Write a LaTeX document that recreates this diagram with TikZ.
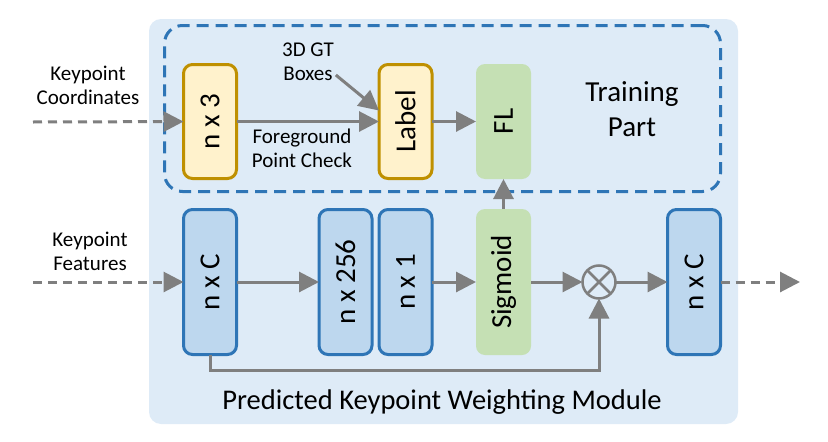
\documentclass[tikz,border=0pt]{standalone}
\usepackage{fontspec}
\setmainfont{Carlito}
\usepackage{graphicx}
\usetikzlibrary{arrows.meta}

\definecolor{modbg}{HTML}{DEEBF7}
\definecolor{blueline}{HTML}{2E75B6}
\definecolor{bluefill}{HTML}{BDD7EE}
\definecolor{yellowfill}{HTML}{FFF2CC}
\definecolor{yellowline}{HTML}{BF9000}
\definecolor{greenfill}{HTML}{C5E0B4}
\definecolor{arrowgray}{HTML}{7F7F7F}

\begin{document}
\begin{tikzpicture}
            [x=1pt,y=-1pt,line width=3pt,
             every node/.style={inner sep=0pt,outer sep=0pt},
             box/.style={rounded corners=9pt,minimum width=53pt,font=\fontsize{29}{34}\selectfont},
             bluebox/.style={box,draw=blueline,fill=bluefill,minimum height=145pt},
             yellowbox/.style={box,draw=yellowline,fill=yellowfill,minimum height=114pt},
             greenbox/.style={box,fill=greenfill,minimum width=55pt},
             flow/.style={draw=arrowgray,-{Triangle[length=20pt,width=20pt]}},
             dashflow/.style={flow,dash pattern=on 9pt off 6pt},
             side/.style={align=center,font=\fontsize{21}{24}\selectfont}]
            \useasboundingbox (0,0) rectangle (828,442);

            % module and training part
            \node[fill=modbg,rounded corners=12pt,minimum width=589pt,minimum height=405pt] (module) at (443.5,221.5) {};
            \node[draw=blueline,dash pattern=on 12pt off 7pt,rounded corners=18pt,minimum width=556pt,minimum height=166pt] (train) at (442.5,108.5) {};

            % training row
            \node[yellowbox] (n3) at (210,121.5) {\rotatebox{90}{n x 3}};
            \node[yellowbox] (lbl) at (405.5,121.5) {\rotatebox{90}{Label}};
            \node[greenbox,minimum height=115pt] (fl) at (503.5,121.5) {\rotatebox{90}{FL}};

            % weighting row
            \node[bluebox] (nC) at (210,282) {\rotatebox{90}{n x C}};
            \node[bluebox] (n256) at (345.5,282) {\rotatebox{90}{n x 256}};
            \node[bluebox] (n1) at (405.5,282) {\rotatebox{90}{n x 1}};
            \node[greenbox,minimum height=146pt] (sig) at (503.5,282) {\rotatebox{90}{Sigmoid}};
            \node[draw=arrowgray,circle,minimum size=33pt,line width=2.5pt] (mul) at (599,282) {};
            \draw[arrowgray,line width=2.5pt] (mul.45) -- (mul.225);
            \draw[arrowgray,line width=2.5pt] (mul.135) -- (mul.315);
            \node[bluebox] (nC2) at (694,282) {\rotatebox{90}{n x C}};

            % texts
            \node[side] (kc) at (88,85) {Keypoint\\Coordinates};
            \node[side] (kf) at (90,251) {Keypoint\\Features};
            \node[side] (gt) at (308,62) {3D GT\\Boxes};
            \node[side] (fg) at (302,148) {Foreground\\Point Check};
            \node[align=center,font=\fontsize{29}{35}\selectfont] (tp) at (632,109) {Training\\Part};
            \node[font=\fontsize{28.5}{34}\selectfont] (title) at (442,402) {Predicted Keypoint Weighting Module};

            \coordinate (kcin) at (33,122);
            \coordinate (kfin) at (33,282);
            \coordinate (out) at (800,282);

            % inputs and output
            \draw[dashflow] (kcin) -- (n3);
            \draw[dashflow] (kfin) -- (nC);
            \draw[dashflow] (nC2) -- (out);
            % training part
            \draw[flow] (n3) -- (lbl);
            \draw[flow] ([xshift=2pt,yshift=-13pt]gt.east) -- ([yshift=11pt]lbl.west);
            \draw[flow] (lbl) -- (fl);
            \draw[flow] (sig) -- (fl);
            % weighting
            \draw[flow] (nC) -- (n256);
            \draw[flow] (n1) -- (sig);
            \draw[flow] (sig) -- (mul);
            \draw[flow] (mul) -- (nC2);
            \draw[flow] (nC.south) -- ++(0,16) -| (mul.south);
        \end{tikzpicture}
\end{document}
